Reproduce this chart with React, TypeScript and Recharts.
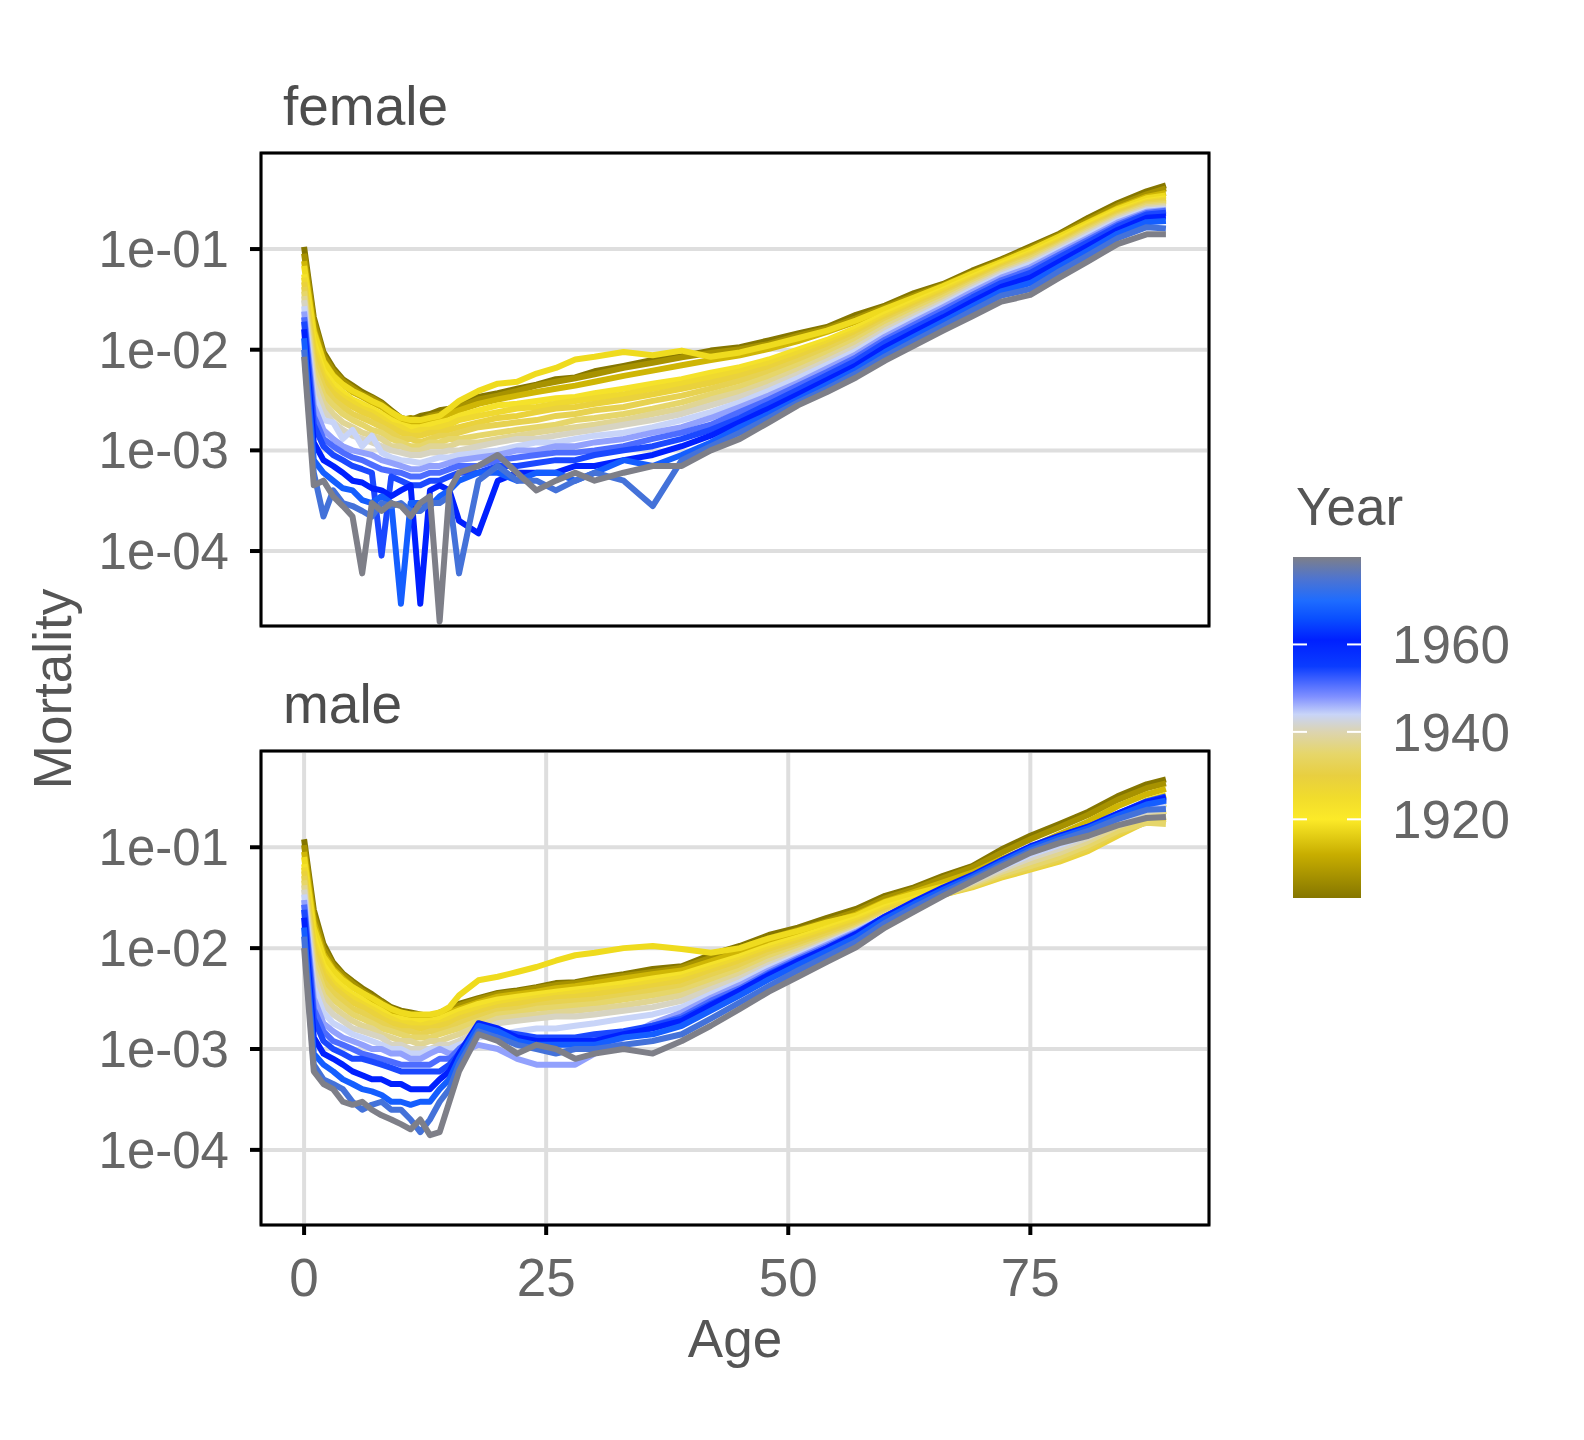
import React from 'react';
import { LineChart, Line, XAxis, YAxis, CartesianGrid } from 'recharts';

const FONT = '"Liberation Sans", Arial, Helvetica, sans-serif';

// ages sampled along the x axis
const ages = [
  0, 1, 2, 3, 4, 5, 6, 7, 8, 9,
  10, 11, 12, 13, 14, 15, 16, 18, 20, 22,
  24, 26, 28, 30, 33, 36, 39, 42, 45, 48,
  51, 54, 57, 60, 63, 66, 69, 72, 75, 78,
  81, 84, 87, 89,
];
const years = [1902, 1907, 1913, 1918, 1923, 1926, 1929, 1932, 1935, 1938, 1941, 1944, 1947, 1951, 1954, 1961, 1968, 1974, 1980];
const xTicks = [0, 25, 50, 75];
const yTicks = [1e-1, 1e-2, 1e-3, 1e-4];
const legendTicks = [1920, 1940, 1960];
const yearRange = [1902, 1980];

// female mortality by year
const f1902 = [0.105, 0.021, 0.0095, 0.0066, 0.0051, 0.0044, 0.0038, 0.0034, 0.003, 0.0025,
  0.0021, 0.002, 0.0022, 0.0023, 0.0025, 0.0026, 0.0029, 0.0034, 0.0037, 0.0041,
  0.0045, 0.0051, 0.0053, 0.0061, 0.0069, 0.0079, 0.0086, 0.0098, 0.0106, 0.0124,
  0.0145, 0.0168, 0.0222, 0.0275, 0.0365, 0.045, 0.061, 0.079, 0.106, 0.142,
  0.205, 0.285, 0.375, 0.43];
const f1907 = [0.09, 0.019, 0.0088, 0.0062, 0.0049, 0.0042, 0.0036, 0.0033, 0.0029, 0.0024,
  0.002, 0.0021, 0.002, 0.0022, 0.0023, 0.0025, 0.0027, 0.0032, 0.0035, 0.0039,
  0.0044, 0.0048, 0.0052, 0.0057, 0.0066, 0.0074, 0.0084, 0.0093, 0.0101, 0.0114,
  0.0138, 0.0162, 0.0205, 0.0265, 0.0345, 0.044, 0.0585, 0.077, 0.102, 0.138,
  0.195, 0.27, 0.35, 0.4];
const f1913 = [0.076, 0.016, 0.0078, 0.0056, 0.0045, 0.0038, 0.0034, 0.003, 0.0027, 0.0023,
  0.002, 0.0019, 0.0019, 0.002, 0.0021, 0.0023, 0.0025, 0.0029, 0.0032, 0.0035,
  0.0038, 0.0041, 0.0044, 0.0048, 0.0055, 0.0062, 0.007, 0.0079, 0.0088, 0.0102,
  0.0122, 0.015, 0.019, 0.025, 0.0325, 0.042, 0.056, 0.074, 0.097, 0.132,
  0.185, 0.255, 0.33, 0.36];
const f1918 = [0.068, 0.015, 0.0076, 0.0055, 0.0045, 0.0039, 0.0035, 0.0031, 0.0028, 0.0024,
  0.0021, 0.002, 0.002, 0.0021, 0.0022, 0.0026, 0.0031, 0.0039, 0.0046, 0.0048,
  0.0058, 0.0066, 0.008, 0.0085, 0.0095, 0.0088, 0.0098, 0.0085, 0.0094, 0.011,
  0.013, 0.0155, 0.0195, 0.0255, 0.033, 0.043, 0.057, 0.0745, 0.098, 0.133,
  0.183, 0.25, 0.32, 0.34];
const f1923 = [0.056, 0.012, 0.0062, 0.0046, 0.0038, 0.0032, 0.0029, 0.0026, 0.0023, 0.002,
  0.0018, 0.0017, 0.0017, 0.0018, 0.0019, 0.002, 0.0022, 0.0025, 0.0028, 0.0029,
  0.0031, 0.0033, 0.0034, 0.0037, 0.0041, 0.0046, 0.0051, 0.0059, 0.0067, 0.008,
  0.01, 0.0125, 0.0165, 0.0225, 0.03, 0.0395, 0.053, 0.071, 0.092, 0.125,
  0.175, 0.24, 0.3, 0.32];
const f1926 = [0.052, 0.0105, 0.0056, 0.0041, 0.0034, 0.003, 0.0026, 0.0024, 0.0021, 0.0018,
  0.0017, 0.0015, 0.0016, 0.0016, 0.0017, 0.0018, 0.002, 0.0022, 0.0024, 0.0026,
  0.0027, 0.0029, 0.0031, 0.0033, 0.0036, 0.0041, 0.0046, 0.0053, 0.0061, 0.0073,
  0.0092, 0.0116, 0.0152, 0.0212, 0.0285, 0.0378, 0.051, 0.068, 0.089, 0.121,
  0.17, 0.232, 0.292, 0.31];
const f1929 = [0.047, 0.009, 0.005, 0.0037, 0.0031, 0.0027, 0.0024, 0.0022, 0.0019, 0.0017,
  0.0015, 0.0014, 0.0014, 0.0015, 0.0015, 0.0016, 0.0017, 0.0019, 0.0021, 0.0022,
  0.0024, 0.0026, 0.0027, 0.0029, 0.0032, 0.0036, 0.0041, 0.0047, 0.0055, 0.0066,
  0.0084, 0.0108, 0.0142, 0.02, 0.027, 0.036, 0.049, 0.066, 0.086, 0.117,
  0.165, 0.225, 0.285, 0.3];
const f1932 = [0.042, 0.0078, 0.0043, 0.0032, 0.0027, 0.0023, 0.0021, 0.0019, 0.0017, 0.0015,
  0.0013, 0.0013, 0.0012, 0.0013, 0.0014, 0.0014, 0.0015, 0.0017, 0.0018, 0.0019,
  0.002, 0.0022, 0.0023, 0.0025, 0.0027, 0.0031, 0.0035, 0.0041, 0.0049, 0.006,
  0.0077, 0.01, 0.0134, 0.019, 0.0258, 0.0345, 0.047, 0.064, 0.083, 0.113,
  0.16, 0.218, 0.278, 0.29];
const f1935 = [0.038, 0.0065, 0.0036, 0.0028, 0.0023, 0.002, 0.0018, 0.0016, 0.0015, 0.0013,
  0.0012, 0.0011, 0.0011, 0.0012, 0.0012, 0.0013, 0.0013, 0.0014, 0.0015, 0.0016,
  0.0017, 0.0018, 0.002, 0.0021, 0.0023, 0.0026, 0.003, 0.0036, 0.0043, 0.0054,
  0.007, 0.0092, 0.0125, 0.018, 0.0245, 0.033, 0.0455, 0.062, 0.08, 0.11,
  0.155, 0.212, 0.27, 0.28];
const f1938 = [0.034, 0.0054, 0.003, 0.0023, 0.0019, 0.0017, 0.0015, 0.0014, 0.0013, 0.0011,
  0.0011, 0.001, 0.001, 0.0011, 0.0011, 0.0011, 0.0012, 0.0012, 0.0013, 0.0014,
  0.0015, 0.0016, 0.0017, 0.0018, 0.002, 0.0023, 0.0026, 0.0032, 0.0038, 0.0048,
  0.0063, 0.0084, 0.0115, 0.0167, 0.023, 0.0312, 0.0435, 0.059, 0.076, 0.106,
  0.149, 0.205, 0.26, 0.27];
const f1941 = [0.031, 0.0045, 0.0025, 0.0019, 0.0016, 0.0014, 0.0013, 0.0012, 0.0011, 0.001,
  0.00095, 0.0009, 0.0009, 0.00095, 0.00095, 0.001, 0.001, 0.0011, 0.0012, 0.0013,
  0.0013, 0.0014, 0.0015, 0.0016, 0.0018, 0.002, 0.0023, 0.0028, 0.0034, 0.0043,
  0.0057, 0.0077, 0.0105, 0.0155, 0.0215, 0.0295, 0.0415, 0.057, 0.073, 0.102,
  0.143, 0.198, 0.25, 0.26];
const f1944 = [0.027, 0.0035, 0.002, 0.0019, 0.0013, 0.0016, 0.0011, 0.0014, 0.00095, 0.00085,
  0.0008, 0.00078, 0.00075, 0.0008, 0.00085, 0.00085, 0.0009, 0.00095, 0.001, 0.0011,
  0.0012, 0.0012, 0.0013, 0.0014, 0.0015, 0.0017, 0.002, 0.0024, 0.003, 0.0039,
  0.0052, 0.0071, 0.0097, 0.0145, 0.0202, 0.028, 0.0395, 0.0545, 0.07, 0.097,
  0.137, 0.19, 0.242, 0.25];
const f1947 = [0.024, 0.0028, 0.0016, 0.0013, 0.0011, 0.001, 0.00095, 0.0009, 0.0008, 0.00075,
  0.0007, 0.00065, 0.00065, 0.0007, 0.0007, 0.00075, 0.0008, 0.00085, 0.0009, 0.001,
  0.001, 0.0011, 0.0011, 0.0012, 0.0013, 0.0015, 0.0017, 0.0021, 0.0027, 0.0035,
  0.0047, 0.0065, 0.009, 0.0135, 0.019, 0.0265, 0.0375, 0.052, 0.066, 0.093,
  0.13, 0.183, 0.235, 0.245];
const f1951 = [0.021, 0.0022, 0.0013, 0.0011, 0.00095, 0.00085, 0.0008, 0.00072, 0.00065, 0.00062,
  0.0006, 0.00055, 0.00055, 0.0006, 0.0006, 0.00065, 0.0007, 0.0007, 0.0008, 0.00085,
  0.0009, 0.00095, 0.00095, 0.001, 0.0011, 0.0013, 0.0015, 0.0018, 0.0024, 0.0032,
  0.0044, 0.006, 0.0084, 0.0126, 0.0177, 0.0248, 0.035, 0.049, 0.062, 0.088,
  0.124, 0.175, 0.228, 0.24];
const f1954 = [0.019, 0.0018, 0.0011, 0.0009, 0.0008, 0.0007, 0.00065, 0.0006, 0.00009, 0.00055,
  0.0005, 0.00045, 0.00045, 0.0005, 0.0005, 0.00055, 0.0006, 0.0006, 0.0007, 0.0007,
  0.00075, 0.0008, 0.0008, 0.0009, 0.001, 0.0011, 0.0013, 0.0016, 0.0021, 0.0029,
  0.004, 0.0056, 0.0078, 0.0118, 0.0165, 0.023, 0.033, 0.046, 0.058, 0.083,
  0.118, 0.168, 0.22, 0.23];
const f1961 = [0.016, 0.0012, 0.0008, 0.0007, 0.0006, 0.0005, 0.00048, 0.00042, 0.0004, 0.00035,
  0.0004, 0.00045, 0.00003, 0.0004, 0.00045, 0.0004, 0.0002, 0.00015, 0.0005, 0.0006,
  0.0006, 0.0006, 0.0007, 0.0007, 0.0008, 0.0009, 0.0011, 0.0014, 0.0019, 0.0026,
  0.0036, 0.005, 0.007, 0.0106, 0.015, 0.021, 0.03, 0.042, 0.052, 0.075,
  0.108, 0.155, 0.205, 0.21];
const f1968 = [0.013, 0.0008, 0.0006, 0.0005, 0.00042, 0.0004, 0.00032, 0.0003, 0.00035, 0.0003,
  0.00003, 0.0003, 0.0003, 0.00028, 0.00035, 0.0004, 0.0005, 0.0006, 0.0006, 0.0005,
  0.0006, 0.0006, 0.0005, 0.0006, 0.0008, 0.0007, 0.0009, 0.0012, 0.0017, 0.0023,
  0.0032, 0.0045, 0.0063, 0.0095, 0.0135, 0.019, 0.027, 0.038, 0.046, 0.067,
  0.097, 0.142, 0.185, 0.19];
const f1974 = [0.01, 0.0006, 0.00022, 0.0004, 0.0003, 0.00028, 0.00025, 0.00022, 0.0003, 0.00028,
  0.0003, 0.00025, 0.00025, 0.0003, 0.0003, 0.00035, 0.00006, 0.0005, 0.0007, 0.0005,
  0.0005, 0.0004, 0.0005, 0.0006, 0.0005, 0.00028, 0.0008, 0.0011, 0.0015, 0.0021,
  0.003, 0.0041, 0.0058, 0.0086, 0.0122, 0.0172, 0.0245, 0.0345, 0.04, 0.06,
  0.087, 0.128, 0.165, 0.16];
const f1980 = [0.0085, 0.00045, 0.0005, 0.00035, 0.00028, 0.00022, 0.00006, 0.0003, 0.00025, 0.0003,
  0.00028, 0.00022, 0.0003, 0.00035, 0.00002, 0.0004, 0.0006, 0.0007, 0.0009, 0.0006,
  0.0004, 0.0005, 0.0006, 0.0005, 0.0006, 0.0007, 0.0007, 0.001, 0.0013, 0.0019,
  0.0028, 0.0038, 0.0053, 0.0078, 0.011, 0.0155, 0.0215, 0.03, 0.035, 0.052,
  0.076, 0.112, 0.14, 0.14];

// male mortality by year
const m1902 = [0.12, 0.024, 0.011, 0.0072, 0.0056, 0.0047, 0.004, 0.0035, 0.003, 0.0026,
  0.0024, 0.0023, 0.0022, 0.0021, 0.0023, 0.0025, 0.0028, 0.0032, 0.0036, 0.0038,
  0.0041, 0.0045, 0.0046, 0.005, 0.0055, 0.0062, 0.0066, 0.0086, 0.0105, 0.0135,
  0.016, 0.02, 0.0245, 0.033, 0.04, 0.052, 0.065, 0.095, 0.13, 0.17,
  0.225, 0.32, 0.42, 0.47];
const m1907 = [0.105, 0.021, 0.01, 0.0068, 0.0054, 0.0045, 0.0038, 0.0033, 0.0029, 0.0025,
  0.0023, 0.0022, 0.0021, 0.0021, 0.0022, 0.0024, 0.0027, 0.0031, 0.0035, 0.0037,
  0.004, 0.0043, 0.0045, 0.0048, 0.0053, 0.0058, 0.0064, 0.008, 0.01, 0.0125,
  0.0152, 0.0185, 0.023, 0.0312, 0.0385, 0.0495, 0.063, 0.088, 0.12, 0.158,
  0.21, 0.295, 0.385, 0.43];
const m1913 = [0.09, 0.018, 0.0088, 0.0062, 0.005, 0.0041, 0.0036, 0.0031, 0.0027, 0.0024,
  0.0022, 0.0021, 0.002, 0.002, 0.0021, 0.0023, 0.0025, 0.0029, 0.0033, 0.0035,
  0.0037, 0.004, 0.0042, 0.0045, 0.005, 0.0055, 0.006, 0.0074, 0.0092, 0.0115,
  0.0142, 0.0175, 0.0215, 0.029, 0.036, 0.045, 0.056, 0.076, 0.1, 0.135,
  0.18, 0.255, 0.335, 0.38];
const m1918 = [0.08, 0.016, 0.0082, 0.006, 0.0048, 0.0041, 0.0036, 0.0032, 0.0028, 0.0025,
  0.0023, 0.0022, 0.0022, 0.0022, 0.0023, 0.0026, 0.0034, 0.0048, 0.0052, 0.0058,
  0.0065, 0.0075, 0.0085, 0.009, 0.01, 0.0105, 0.0098, 0.009, 0.01, 0.0125,
  0.0148, 0.018, 0.021, 0.0285, 0.0345, 0.041, 0.05, 0.065, 0.085, 0.11,
  0.148, 0.205, 0.29, 0.33];
const m1923 = [0.068, 0.013, 0.0068, 0.005, 0.0041, 0.0035, 0.0031, 0.0027, 0.0024, 0.0021,
  0.002, 0.0019, 0.0019, 0.0019, 0.002, 0.0022, 0.0024, 0.0028, 0.0031, 0.0033,
  0.0035, 0.0037, 0.0039, 0.0041, 0.0045, 0.005, 0.0055, 0.0068, 0.0083, 0.0105,
  0.0128, 0.0158, 0.0195, 0.0255, 0.031, 0.037, 0.044, 0.056, 0.068, 0.088,
  0.118, 0.165, 0.235, 0.27];
const m1926 = [0.063, 0.0115, 0.0061, 0.0045, 0.0037, 0.0032, 0.0028, 0.0025, 0.0022, 0.002,
  0.0018, 0.0018, 0.0017, 0.0018, 0.0018, 0.002, 0.0022, 0.0025, 0.0028, 0.003,
  0.0032, 0.0034, 0.0036, 0.0038, 0.0041, 0.0046, 0.0051, 0.0063, 0.0077, 0.0098,
  0.012, 0.0149, 0.0185, 0.0243, 0.0298, 0.0355, 0.042, 0.053, 0.064, 0.08,
  0.105, 0.148, 0.205, 0.23];
const m1929 = [0.058, 0.01, 0.0055, 0.0041, 0.0034, 0.0029, 0.0026, 0.0023, 0.002, 0.0018,
  0.0017, 0.0016, 0.0016, 0.0016, 0.0017, 0.0018, 0.002, 0.0023, 0.0026, 0.0028,
  0.003, 0.0032, 0.0033, 0.0035, 0.0038, 0.0042, 0.0047, 0.0058, 0.0072, 0.0092,
  0.0113, 0.014, 0.0175, 0.0232, 0.0285, 0.034, 0.04, 0.05, 0.06, 0.072,
  0.092, 0.13, 0.18, 0.2];
const m1932 = [0.052, 0.0087, 0.0047, 0.0036, 0.003, 0.0025, 0.0023, 0.002, 0.0018, 0.0016,
  0.0015, 0.0015, 0.0014, 0.0015, 0.0015, 0.0016, 0.0018, 0.0021, 0.0024, 0.0025,
  0.0027, 0.0029, 0.003, 0.0031, 0.0034, 0.0038, 0.0042, 0.0053, 0.0066, 0.0086,
  0.0106, 0.0132, 0.0167, 0.0224, 0.028, 0.034, 0.041, 0.052, 0.062, 0.076,
  0.098, 0.138, 0.178, 0.19];
const m1935 = [0.047, 0.0075, 0.004, 0.0031, 0.0026, 0.0022, 0.002, 0.0018, 0.0016, 0.0015,
  0.0014, 0.0013, 0.0013, 0.0013, 0.0014, 0.0015, 0.0016, 0.0019, 0.0022, 0.0023,
  0.0025, 0.0026, 0.0027, 0.0028, 0.0031, 0.0034, 0.0038, 0.0048, 0.006, 0.008,
  0.0099, 0.0125, 0.016, 0.0215, 0.0275, 0.034, 0.042, 0.054, 0.065, 0.08,
  0.105, 0.145, 0.175, 0.17];
const m1938 = [0.042, 0.0062, 0.0034, 0.0026, 0.0022, 0.0019, 0.0017, 0.0016, 0.0014, 0.0013,
  0.0012, 0.0012, 0.0011, 0.0012, 0.0012, 0.0013, 0.0014, 0.0017, 0.002, 0.0021,
  0.0022, 0.0023, 0.0024, 0.0025, 0.0027, 0.003, 0.0034, 0.0043, 0.0055, 0.0074,
  0.0094, 0.012, 0.0155, 0.021, 0.0272, 0.0345, 0.0435, 0.057, 0.071, 0.088,
  0.115, 0.16, 0.2, 0.21];
const m1941 = [0.038, 0.0052, 0.0028, 0.0022, 0.0019, 0.0016, 0.0015, 0.0014, 0.0013, 0.0011,
  0.0011, 0.001, 0.001, 0.001, 0.0011, 0.0011, 0.0012, 0.0015, 0.0018, 0.0019,
  0.002, 0.0021, 0.0021, 0.0022, 0.0024, 0.0026, 0.003, 0.0039, 0.005, 0.0068,
  0.0088, 0.0115, 0.015, 0.0205, 0.027, 0.035, 0.045, 0.06, 0.078, 0.097,
  0.125, 0.175, 0.225, 0.24];
const m1944 = [0.034, 0.0041, 0.0023, 0.0018, 0.0016, 0.0014, 0.0013, 0.0012, 0.0011, 0.001,
  0.001, 0.0009, 0.0009, 0.001, 0.001, 0.001, 0.0011, 0.0013, 0.0014, 0.0015,
  0.0016, 0.0016, 0.0017, 0.0018, 0.002, 0.0022, 0.0026, 0.0035, 0.0046, 0.0064,
  0.0084, 0.0112, 0.0148, 0.0205, 0.0275, 0.036, 0.047, 0.063, 0.084, 0.105,
  0.132, 0.182, 0.24, 0.26];
const m1947 = [0.03, 0.0032, 0.0018, 0.0015, 0.0013, 0.0012, 0.0011, 0.001, 0.001, 0.0009,
  0.0009, 0.0008, 0.0008, 0.0009, 0.001, 0.0009, 0.0009, 0.0011, 0.001, 0.0008,
  0.0007, 0.0007, 0.0007, 0.0009, 0.0013, 0.0018, 0.0023, 0.0032, 0.0043, 0.006,
  0.0081, 0.0108, 0.0145, 0.0204, 0.028, 0.037, 0.049, 0.066, 0.09, 0.112,
  0.14, 0.19, 0.26, 0.29];
const m1951 = [0.027, 0.0025, 0.0015, 0.0012, 0.0011, 0.001, 0.0009, 0.00085, 0.0008, 0.00075,
  0.0007, 0.0007, 0.0007, 0.0007, 0.0008, 0.0008, 0.001, 0.0014, 0.0014, 0.0013,
  0.0012, 0.0012, 0.0012, 0.0013, 0.0014, 0.0017, 0.0021, 0.003, 0.004, 0.0057,
  0.0078, 0.0104, 0.0141, 0.0205, 0.0282, 0.038, 0.0505, 0.069, 0.095, 0.12,
  0.15, 0.205, 0.27, 0.3];
const m1954 = [0.024, 0.002, 0.0012, 0.001, 0.0009, 0.0008, 0.0008, 0.00075, 0.0007, 0.00065,
  0.0006, 0.0006, 0.0006, 0.0006, 0.0006, 0.0007, 0.0009, 0.0016, 0.0015, 0.0014,
  0.0013, 0.0013, 0.0013, 0.0014, 0.0015, 0.0017, 0.002, 0.0028, 0.0038, 0.0055,
  0.0075, 0.01, 0.0138, 0.0205, 0.0285, 0.039, 0.052, 0.072, 0.1, 0.128,
  0.16, 0.215, 0.285, 0.32];
const m1961 = [0.02, 0.0013, 0.0009, 0.0008, 0.0007, 0.0006, 0.00055, 0.0005, 0.0005, 0.00045,
  0.00045, 0.0004, 0.0004, 0.0004, 0.0005, 0.0006, 0.0009, 0.0018, 0.0016, 0.0013,
  0.0012, 0.0012, 0.0012, 0.0012, 0.0014, 0.0016, 0.0019, 0.0027, 0.0038, 0.0054,
  0.0074, 0.01, 0.0138, 0.0205, 0.029, 0.04, 0.053, 0.074, 0.102, 0.13,
  0.16, 0.215, 0.28, 0.31];
const m1968 = [0.016, 0.0009, 0.0007, 0.0006, 0.0005, 0.00045, 0.0004, 0.00038, 0.00035, 0.0003,
  0.0003, 0.00028, 0.0003, 0.0003, 0.0004, 0.0005, 0.0008, 0.0017, 0.0015, 0.0012,
  0.0011, 0.0011, 0.0011, 0.0011, 0.0013, 0.0014, 0.0017, 0.0024, 0.0034, 0.0049,
  0.0068, 0.0093, 0.0128, 0.0195, 0.0275, 0.038, 0.051, 0.071, 0.098, 0.125,
  0.155, 0.205, 0.265, 0.29];
const m1974 = [0.013, 0.0007, 0.0005, 0.00045, 0.0004, 0.0003, 0.00025, 0.00028, 0.0003, 0.00025,
  0.00025, 0.0002, 0.00015, 0.0002, 0.0003, 0.0004, 0.0007, 0.0015, 0.0013, 0.0011,
  0.001, 0.0009, 0.001, 0.001, 0.0011, 0.0012, 0.0014, 0.002, 0.0029, 0.0042,
  0.006, 0.0083, 0.0115, 0.0178, 0.0255, 0.0355, 0.0485, 0.067, 0.092, 0.118,
  0.145, 0.19, 0.235, 0.24];
const m1980 = [0.01, 0.0006, 0.00045, 0.0004, 0.0003, 0.00028, 0.0003, 0.00025, 0.00022, 0.0002,
  0.00018, 0.00016, 0.0002, 0.00014, 0.00015, 0.0003, 0.0006, 0.0014, 0.0012, 0.0009,
  0.0011, 0.001, 0.0008, 0.0009, 0.001, 0.0009, 0.0012, 0.0017, 0.0025, 0.0037,
  0.0052, 0.0073, 0.0102, 0.016, 0.023, 0.033, 0.046, 0.064, 0.088, 0.11,
  0.13, 0.165, 0.195, 0.2];

const femaleValues = [f1902, f1907, f1913, f1918, f1923, f1926, f1929, f1932, f1935, f1938,
  f1941, f1944, f1947, f1951, f1954, f1961, f1968, f1974, f1980];
const maleValues = [m1902, m1907, m1913, m1918, m1923, m1926, m1929, m1932, m1935, m1938,
  m1941, m1944, m1947, m1951, m1954, m1961, m1968, m1974, m1980];

// colour ramp of the Year scale
const colourStops: [number, string][] = [
  [1902, '#857600'], [1912, '#C8AE00'], [1920, '#FCEA28'], [1925, '#F1DC2C'],
  [1930, '#E8CF40'], [1935, '#E6D66A'], [1940, '#DCD4B0'], [1944, '#C8D4F8'],
  [1948, '#8090FF'], [1955, '#0A3CFF'], [1961, '#0020FF'], [1966, '#0A50FF'],
  [1970, '#1E6CFF'], [1975, '#4E74D0'], [1980, '#7E7F88'],
];

const hexToRgb = (h: string) => [1, 3, 5].map((i) => parseInt(h.slice(i, i + 2), 16));

function yearColour(year: number): string {
  for (let i = 1; i < colourStops.length; i++) {
    const [y0, c0] = colourStops[i - 1];
    const [y1, c1] = colourStops[i];
    if (year <= y1) {
      const t = (year - y0) / (y1 - y0);
      const a = hexToRgb(c0);
      const b = hexToRgb(c1);
      const rgb = a.map((v, k) => Math.round(v + (b[k] - v) * t));
      return `rgb(${rgb.join(',')})`;
    }
  }
  return colourStops[colourStops.length - 1][1];
}

const buildRows = (values: number[][]) =>
  ages.map((age, i) => {
    const row: Record<string, number> = { age };
    years.forEach((year, j) => {
      row[`y${year}`] = values[j][i];
    });
    return row;
  });

const femaleRows = buildRows(femaleValues);
const maleRows = buildRows(maleValues);

const formatRate = (v: number) => `1e-${String(-Math.round(Math.log10(v))).padStart(2, '0')}`;

const Panel = ({ rows, showX, height, bottom }: { rows: Record<string, number>[]; showX: boolean; height: number; bottom: number }) => (
  <LineChart
    width={1220}
    height={height}
    data={rows}
    margin={{ top: 153, right: 11, bottom, left: 0 }}
  >
    <CartesianGrid stroke="#DEDEDE" strokeWidth={4} />
    <XAxis
      dataKey="age"
      type="number"
      domain={[-4.45, 93.45]}
      ticks={xTicks}
      interval={0}
      allowDataOverflow
      height={showX ? 73 : 1}
      axisLine={false}
      tick={showX ? { fill: '#666666', fontSize: 53, fontFamily: FONT } : false}
      tickLine={showX ? { stroke: '#000', strokeWidth: 4 } : false}
      tickSize={10}
      tickMargin={23}
    />
    <YAxis
      type="number"
      scale="log"
      domain={[1.8e-5, 0.9]}
      ticks={yTicks}
      interval={0}
      allowDataOverflow
      width={261}
      axisLine={false}
      tickFormatter={formatRate}
      tick={{ fill: '#666666', fontSize: 51, fontFamily: FONT }}
      tickLine={{ stroke: '#000', strokeWidth: 4 }}
      tickSize={11}
      tickMargin={21}
    />
    {years.map((year) => (
      <Line
        key={year}
        type="linear"
        dataKey={`y${year}`}
        stroke={yearColour(year)}
        strokeWidth={6}
        strokeLinejoin="round"
        dot={false}
        isAnimationActive={false}
      />
    ))}
  </LineChart>
);

const barTop = 557;
const barHeight = 341;
const yearToBar = (y: number) => barTop + ((yearRange[1] - y) / (yearRange[1] - yearRange[0])) * barHeight;

const Overlay = () => (
  <svg width={1584} height={1440} style={{ position: 'absolute', left: 0, top: 0, pointerEvents: 'none' }}>
    <defs>
      <linearGradient id="yearRamp" x1="0" y1="0" x2="0" y2="1">
        {colourStops.map(([y, c]) => (
          <stop key={y} offset={(yearRange[1] - y) / (yearRange[1] - yearRange[0])} stopColor={c} />
        )).reverse()}
      </linearGradient>
    </defs>
    <rect x={261} y={153} width={948} height={473} fill="none" stroke="#000" strokeWidth={3} />
    <rect x={261} y={751} width={948} height={474} fill="none" stroke="#000" strokeWidth={3} />
    <g fontFamily={FONT}>
      <text x={283} y={125} fontSize={55} fill="#4D4D4D">female</text>
      <text x={283} y={723} fontSize={55} fill="#4D4D4D">male</text>
      <text x={735} y={1357} fontSize={53} fill="#555555" textAnchor="middle">Age</text>
      <text x={71} y={689} fontSize={53} fill="#555555" textAnchor="middle" transform="rotate(-90 71 689)">Mortality</text>
      <text x={1296} y={525} fontSize={53} fill="#555555">Year</text>
      <rect x={1293} y={barTop} width={68} height={barHeight} fill="url(#yearRamp)" />
      {legendTicks.map((t) => (
        <g key={t}>
          <line x1={1293} x2={1307} y1={yearToBar(t)} y2={yearToBar(t)} stroke="#fff" strokeWidth={2} />
          <line x1={1347} x2={1361} y1={yearToBar(t)} y2={yearToBar(t)} stroke="#fff" strokeWidth={2} />
          <text x={1392} y={yearToBar(t) + 19} fontSize={53} fill="#666666">{t}</text>
        </g>
      ))}
    </g>
  </svg>
);

export default function App() {
  return (
    <div style={{ position: 'absolute', left: 0, top: 0, width: 1584, height: 1440, background: '#fff' }}>
      <div style={{ position: 'absolute', left: 0, top: 0 }}>
        <Panel rows={femaleRows} showX={false} height={640} bottom={13} />
      </div>
      <div style={{ position: 'absolute', left: 0, top: 598 }}>
        <Panel rows={maleRows} showX height={780} bottom={80} />
      </div>
      <Overlay />
    </div>
  );
}
